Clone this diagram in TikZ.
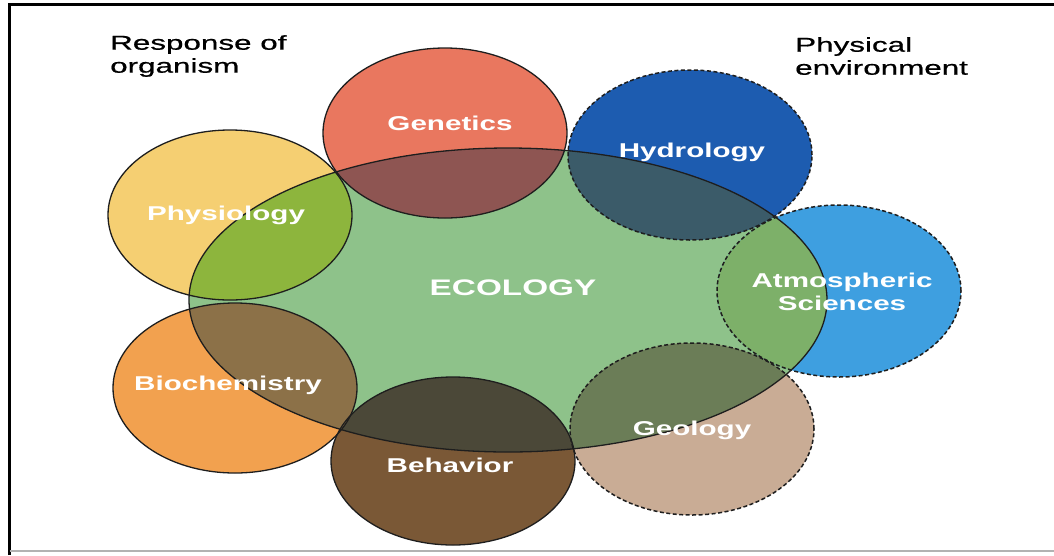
\documentclass[tikz,border=0pt]{standalone}
\usepackage{fontspec}
\setmainfont{Liberation Sans}
\newfontfamily\titlefont[FakeStretch=1.57,FakeBold=0.7]{Liberation Sans}
\newfontfamily\labelfont[FakeStretch=1.48]{Liberation Sans Bold}
\definecolor{ecocol}{HTML}{8EC28A}
\definecolor{gencol}{HTML}{E9775F}
\definecolor{genov}{HTML}{8E5552}
\definecolor{hydcol}{HTML}{1D5CB0}
\definecolor{hydov}{HTML}{3B5B69}
\definecolor{atmcol}{HTML}{3E9FE0}
\definecolor{atmov}{HTML}{7DB069}
\definecolor{phycol}{HTML}{F5CF72}
\definecolor{phyov}{HTML}{8DB53D}
\definecolor{biocol}{HTML}{F2A14F}
\definecolor{bioov}{HTML}{8C7148}
\definecolor{behcol}{HTML}{7A5836}
\definecolor{behov}{HTML}{4B4838}
\definecolor{geocol}{HTML}{C9AC95}
\definecolor{geoov}{HTML}{6B7D57}
\definecolor{outl}{HTML}{1E1E1E}
\tikzset{
  solidring/.style={draw=outl, line width=1.3pt},
  dashring/.style={draw=outl, line width=1.5pt, dash pattern=on 4pt off 2.5pt},
  lab/.style={font=\labelfont\fontsize{20}{23}\selectfont, text=white, inner sep=0pt},
  ttl/.style={font=\titlefont\fontsize{20}{23}\selectfont, text=black, inner sep=0pt, align=left, anchor=north west},
}
\begin{document}
\begin{tikzpicture}[x=1pt,y=-1pt]
\useasboundingbox (0,0) rectangle (1054,555);
% frame
\draw[line width=2.5pt, black] (9.5,555) -- (9.5,4.5) -- (1054,4.5);
\draw[line width=1.8pt, black!30] (9.5,551) -- (1054,551);
% centres
\coordinate (eco) at (508,300);
\coordinate (gen) at (445,133);
\coordinate (hyd) at (690,155);
\coordinate (atm) at (839,291);
\coordinate (geo) at (692,429);
\coordinate (beh) at (453,461);
\coordinate (bio) at (235,388);
\coordinate (phy) at (230,215);
% fills
\fill[ecocol] (eco) ellipse [x radius=319pt, y radius=152pt];
\fill[gencol] (gen) ellipse [x radius=122pt, y radius=85pt];
\fill[hydcol] (hyd) ellipse [x radius=122pt, y radius=85pt];
\fill[atmcol] (atm) ellipse [x radius=122pt, y radius=86pt];
\fill[geocol] (geo) ellipse [x radius=122pt, y radius=86pt];
\fill[behcol] (beh) ellipse [x radius=122pt, y radius=84pt];
\fill[biocol] (bio) ellipse [x radius=122pt, y radius=85pt];
\fill[phycol] (phy) ellipse [x radius=122pt, y radius=85pt];
\begin{scope}
  \clip (eco) ellipse [x radius=319pt, y radius=152pt];
  \fill[genov] (gen) ellipse [x radius=122pt, y radius=85pt];
  \fill[hydov] (hyd) ellipse [x radius=122pt, y radius=85pt];
  \fill[atmov] (atm) ellipse [x radius=122pt, y radius=86pt];
  \fill[geoov] (geo) ellipse [x radius=122pt, y radius=86pt];
  \fill[behov] (beh) ellipse [x radius=122pt, y radius=84pt];
  \fill[bioov] (bio) ellipse [x radius=122pt, y radius=85pt];
  \fill[phyov] (phy) ellipse [x radius=122pt, y radius=85pt];
\end{scope}
% outlines
\path[solidring] (eco) ellipse [x radius=319pt, y radius=152pt];
\path[solidring] (gen) ellipse [x radius=122pt, y radius=85pt];
\path[solidring] (beh) ellipse [x radius=122pt, y radius=84pt];
\path[solidring] (bio) ellipse [x radius=122pt, y radius=85pt];
\path[solidring] (phy) ellipse [x radius=122pt, y radius=85pt];
\path[dashring] (hyd) ellipse [x radius=122pt, y radius=85pt];
\path[dashring] (atm) ellipse [x radius=122pt, y radius=86pt];
\path[dashring] (geo) ellipse [x radius=122pt, y radius=86pt];
% labels
\node[lab, anchor=base] (genl) at (450,130) {Genetics};
\node[lab, anchor=base] (hydl) at (692,157) {Hydrology};
\node[lab, anchor=base] (phyl) at (226,220) {Physiology};
\node[lab, anchor=base, font=\labelfont\fontsize{22.5}{26}\selectfont] (ecol) at (513,295) {ECOLOGY};
\node[lab, anchor=north, align=center] (atml) at (842,272.5) {Atmospheric\\Sciences};
\node[lab, anchor=base] (biol) at (228,390) {Biochemistry};
\node[lab, anchor=base] (behl) at (450,472) {Behavior};
\node[lab, anchor=base] (geol) at (692,435) {Geology};
% titles
\node[ttl] (resp) at (110,35) {Response of\\organism};
\node[ttl] (envt) at (795,37) {Physical\\environment};
\end{tikzpicture}
\end{document}
